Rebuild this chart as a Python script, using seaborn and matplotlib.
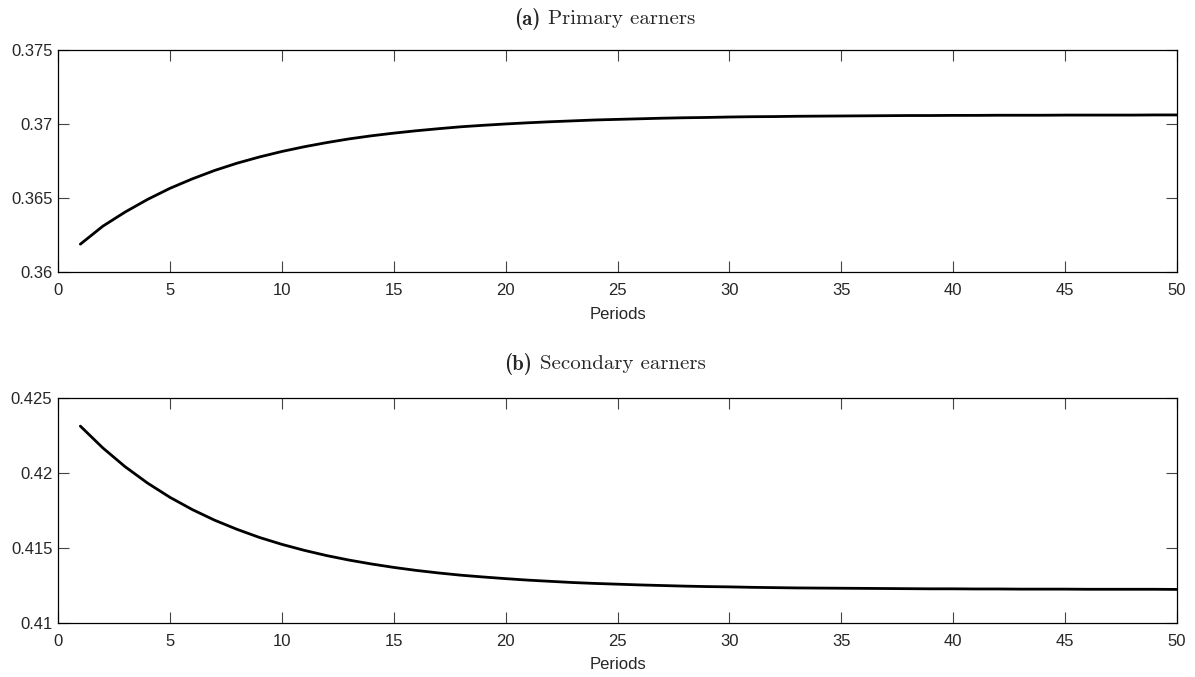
import matplotlib
matplotlib.use('Agg')
import matplotlib.pyplot as plt
import seaborn as sns
import pandas as pd

periods = list(range(1, 51))

primary = [0.36189, 0.36310, 0.36406, 0.36491, 0.36566, 0.36630, 0.36687, 0.36736,
           0.36778, 0.36815, 0.36847, 0.36875, 0.36900, 0.36921, 0.36939, 0.36955,
           0.36969, 0.36982, 0.36992, 0.37001, 0.37009, 0.37016, 0.37022, 0.37028,
           0.37032, 0.37036, 0.37040, 0.37043, 0.37045, 0.37048, 0.37050, 0.37051,
           0.37053, 0.37054, 0.37055, 0.37056, 0.37057, 0.37058, 0.37058, 0.37059,
           0.37059, 0.37060, 0.37060, 0.37060, 0.37061, 0.37061, 0.37061, 0.37061,
           0.37062, 0.37062]

secondary = [0.42313, 0.42168, 0.42042, 0.41933, 0.41838, 0.41756, 0.41685, 0.41624,
             0.41570, 0.41524, 0.41484, 0.41449, 0.41419, 0.41393, 0.41370, 0.41350,
             0.41333, 0.41318, 0.41306, 0.41295, 0.41285, 0.41277, 0.41269, 0.41263,
             0.41258, 0.41253, 0.41249, 0.41245, 0.41242, 0.41240, 0.41237, 0.41235,
             0.41233, 0.41232, 0.41231, 0.41230, 0.41229, 0.41228, 0.41227, 0.41227,
             0.41226, 0.41226, 0.41225, 0.41225, 0.41225, 0.41224, 0.41224, 0.41224,
             0.41224, 0.41223]

x_ticks = list(range(0, 51, 5))
primary_ticks = [0.36, 0.365, 0.37, 0.375]
primary_labels = ['0.36', '0.365', '0.37', '0.375']
secondary_ticks = [0.41, 0.415, 0.42, 0.425]
secondary_labels = ['0.41', '0.415', '0.42', '0.425']

tags = ['(a)', '(b)']
names = ['Primary earners', 'Secondary earners']

sns.set_style('ticks')
plt.rcParams['font.family'] = ['Liberation Sans', 'DejaVu Sans']

df = pd.DataFrame({'Periods': periods, 'primary': primary, 'secondary': secondary})

fig = plt.figure(figsize=(11.95, 6.77), dpi=100)
ax1 = fig.add_axes([0.0485, 0.598, 0.9365, 0.328])
ax2 = fig.add_axes([0.0485, 0.080, 0.9365, 0.332])

panels = [(ax1, 'primary', primary_ticks, primary_labels, 0.972),
          (ax2, 'secondary', secondary_ticks, secondary_labels, 0.462)]

title_parts = []
for i, (ax, col, yt, yl, ty) in enumerate(panels):
    sns.lineplot(data=df, x='Periods', y=col, ax=ax, color='black', linewidth=2)
    ax.set_xlim(0, 50)
    ax.set_ylim(yt[0], yt[-1])
    ax.set_xticks(x_ticks)
    ax.set_yticks(yt)
    ax.set_yticklabels(yl)
    ax.set_ylabel('')
    ax.set_xlabel('Periods', fontsize=12, labelpad=6)
    ax.tick_params(direction='in', length=8, width=0.8, top=True, right=True,
                   labelsize=12, color='#444444')
    ax.tick_params(axis='x', pad=8)
    ax.tick_params(axis='y', pad=4)
    for s in ax.spines.values():
        s.set_visible(True)
        s.set_linewidth(0.9)
        s.set_color('black')
    t1 = fig.text(0.5, ty, tags[i], ha='left', va='center', fontsize=15, family='cmb10')
    t2 = fig.text(0.5, ty, names[i], ha='left', va='center', fontsize=15, family='cmr10')
    title_parts.append((t1, t2))

# centre each two-part title around x=605 px
fig.canvas.draw()
r = fig.canvas.get_renderer()
W = fig.bbox.width
gap = 7
for t1, t2 in title_parts:
    w1 = t1.get_window_extent(r).width
    w2 = t2.get_window_extent(r).width
    x0 = 605 - (w1 + gap + w2) / 2
    t1.set_x(x0 / W)
    t2.set_x((x0 + w1 + gap) / W)

plt.savefig('out.png', dpi=100)
